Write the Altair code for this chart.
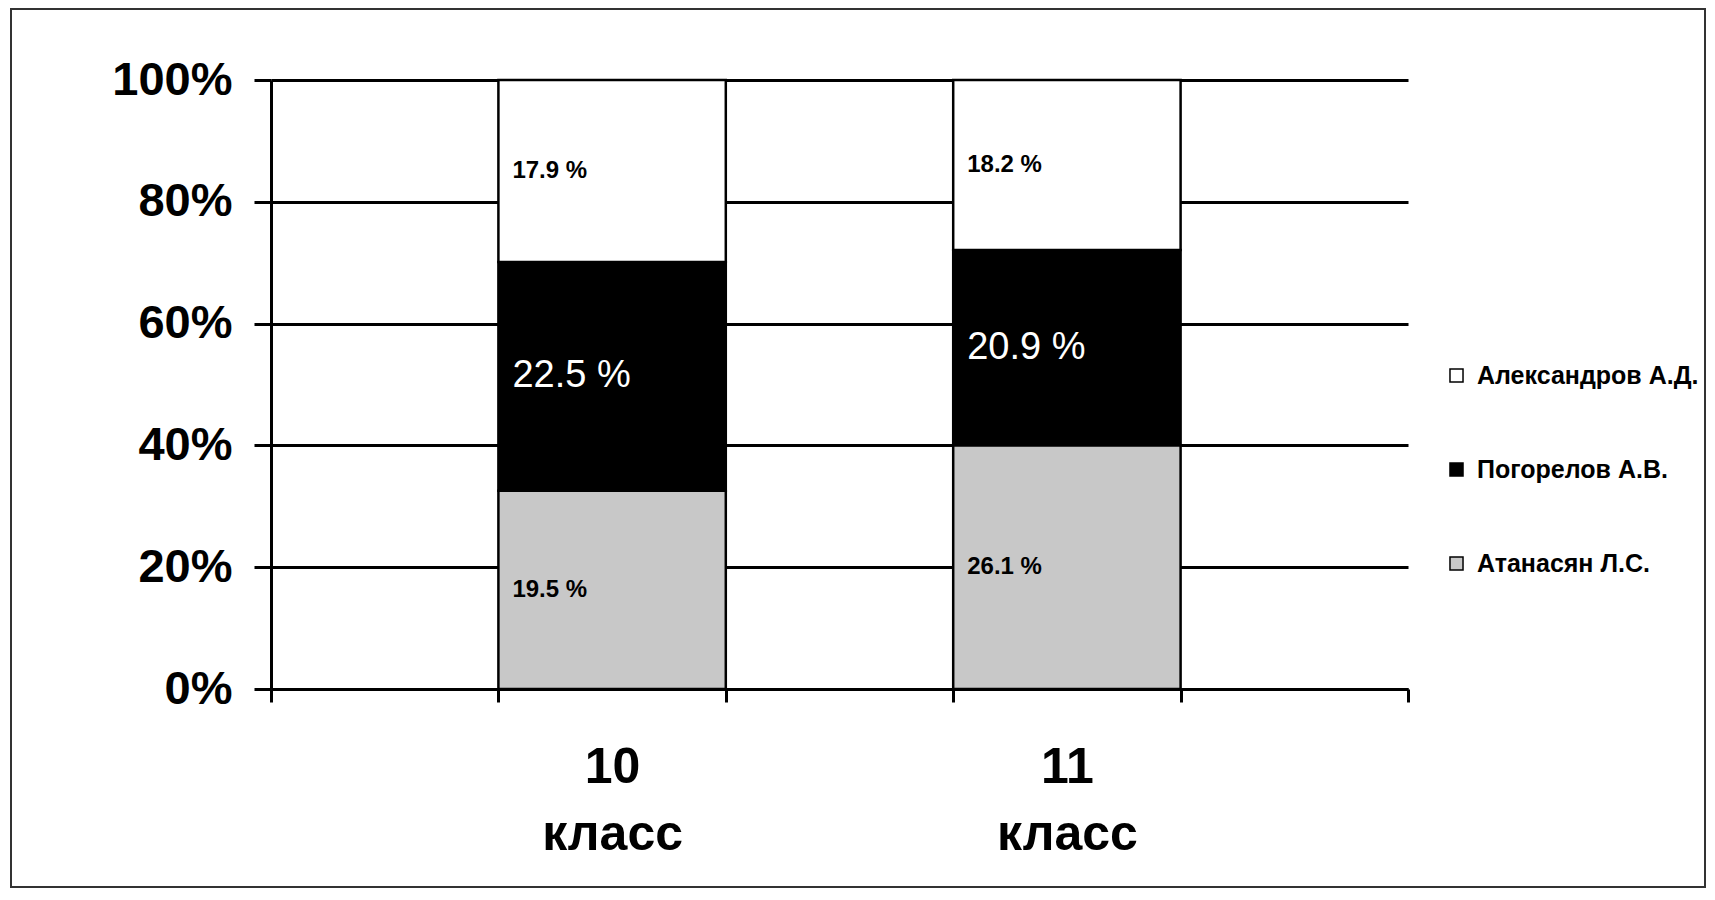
import altair as alt
import pandas as pd

classes = ["10 класс", "11 класс"]
teachers = ["Атанасян Л.С.", "Погорелов А.В.", "Александров А.Д."]  # bottom to top
atanasyan = [19.5, 26.1]
pogorelov = [22.5, 20.9]
aleksandrov = [17.9, 18.2]

x_domain = ["a", classes[0], "b", classes[1], "c"]
legend_order = ["Александров А.Д.", "Погорелов А.В.", "Атанасян Л.С."]
colors = ["#ffffff", "#000000", "#c8c8c8"]

series = [atanasyan, pogorelov, aleksandrov]
rows = []
for i, c in enumerate(classes):
    for j, t in enumerate(teachers):
        rows.append({"cls": c, "teacher": t, "value": series[j][i], "rank": j})
df = pd.DataFrame(rows)

FONT = "Liberation Sans"

xscale = alt.Scale(domain=x_domain, paddingInner=0, paddingOuter=0)
yscale = alt.Scale(domain=[0, 1])

base = alt.Chart(df).transform_joinaggregate(
    total="sum(value)", groupby=["cls"]
).transform_window(
    cum="sum(value)", groupby=["cls"], sort=[alt.SortField("rank", order="ascending")]
).transform_calculate(
    y0="(datum.cum - datum.value) / datum.total",
    y1="datum.cum / datum.total",
    mid="(datum.cum - datum.value / 2) / datum.total",
    label="format(datum.value, '.1f') + ' %'"
)

xlabel_expr = ("(datum.value == null || datum.value == 'a' || datum.value == 'b' "
               "|| datum.value == 'c') ? '' : split(datum.value, ' ')")

bars = base.mark_bar(stroke="black", strokeWidth=2.5).encode(
    x=alt.X("cls:N", scale=xscale, title=None,
            axis=alt.Axis(
                labelExpr=xlabel_expr,
                labelAngle=0, labelFont=FONT, labelFontSize=50, labelFontWeight="bold",
                labelColor="black", labelPadding=40, labelLineHeight=67, labelLimit=400,
                tickBand="extent", tickSize=13, tickWidth=3, tickColor="black",
                domainColor="black", domainWidth=3, grid=False)),
    y=alt.Y("y0:Q", scale=yscale, title=None,
            axis=alt.Axis(values=[0, 0.2, 0.4, 0.6, 0.8, 1.0], format=".0%",
                          labelFont=FONT, labelFontSize=47, labelFontWeight="bold",
                          labelColor="black", labelPadding=22,
                          tickSize=17, tickWidth=3, tickColor="black",
                          domainColor="black", domainWidth=3,
                          grid=True, gridColor="black", gridWidth=3)),
    y2="y1:Q",
    color=alt.Color("teacher:N",
                    scale=alt.Scale(domain=legend_order, range=colors),
                    legend=alt.Legend(title=None, orient="none", legendX=1173, legendY=283,
                                      symbolType="square", symbolSize=170,
                                      symbolStrokeColor="black", symbolStrokeWidth=1.5,
                                      labelFont=FONT, labelFontSize=25, labelFontWeight="bold",
                                      labelColor="black", rowPadding=68, labelOffset=8,
                                      labelLimit=400)),
)

small = base.transform_filter(alt.datum.rank != 1).mark_text(
    align="left", baseline="middle", dx=14, font=FONT, fontSize=24,
    fontWeight="bold", color="black"
).encode(
    x=alt.X("cls:N", scale=xscale, bandPosition=0),
    y=alt.Y("mid:Q", scale=yscale),
    text="label:N",
)

big = base.transform_filter(alt.datum.rank == 1).mark_text(
    align="left", baseline="middle", dx=14, font=FONT, fontSize=38,
    color="white"
).encode(
    x=alt.X("cls:N", scale=xscale, bandPosition=0),
    y=alt.Y("mid:Q", scale=yscale),
    text="label:N",
)

frame = alt.Chart(alt.Data(values=[{"k": 1}])).mark_rect(
    fillOpacity=0, stroke="#333333", strokeWidth=2
).encode(
    x=alt.value(-260), x2=alt.value(1434), y=alt.value(-71), y2=alt.value(807)
)

chart = alt.layer(bars, small, big, frame).properties(
    width=1137, height=609,
    autosize=alt.AutoSizeParams(type="none"),
    padding={"left": 263, "top": 72, "right": 299, "bottom": 200},
    background="white",
).configure_view(strokeWidth=0)

chart.save("out.html", embed_options={"renderer": "svg", "actions": False})
